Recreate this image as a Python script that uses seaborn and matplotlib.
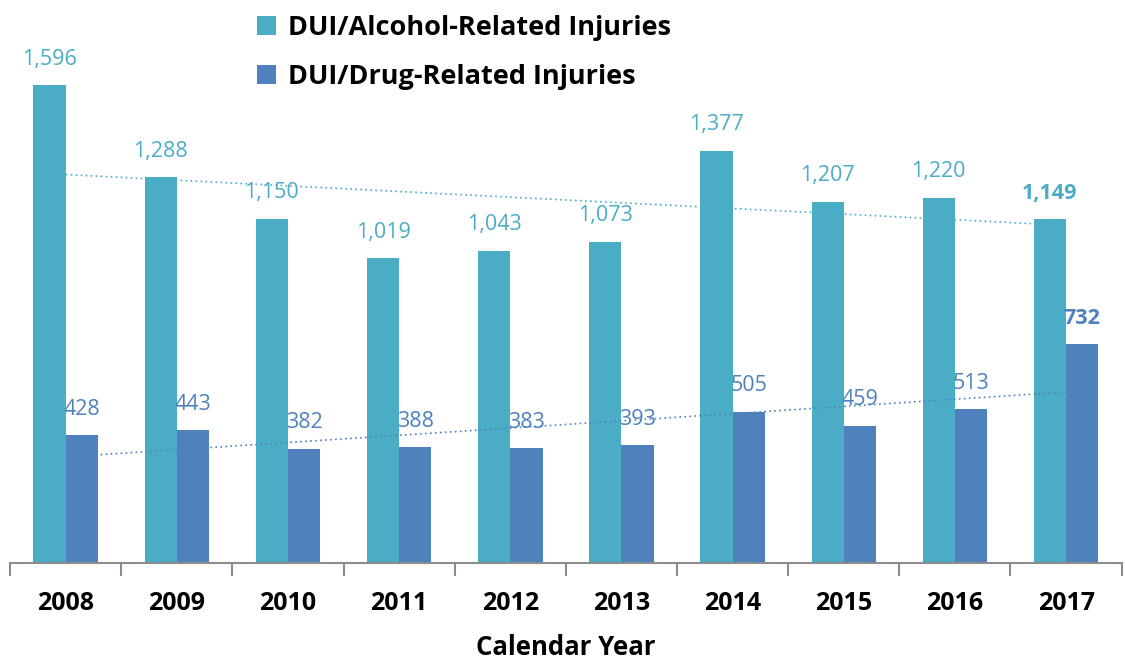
import numpy as np
import pandas as pd
import seaborn as sns
import matplotlib.pyplot as plt
from matplotlib.ticker import FixedLocator

years = ['2008', '2009', '2010', '2011', '2012', '2013', '2014', '2015', '2016', '2017']
alcohol = [1596, 1288, 1150, 1019, 1043, 1073, 1377, 1207, 1220, 1149]
drug = [428, 443, 382, 388, 383, 393, 505, 459, 513, 732]
series = ['DUI/Alcohol-Related Injuries', 'DUI/Drug-Related Injuries']
colors = ['#4BACC6', '#4F81BD']

df = pd.DataFrame({
    'year': years * 2,
    'injuries': alcohol + drug,
    'series': [series[0]] * len(years) + [series[1]] * len(years),
})

sns.set_style('white')
plt.rcParams['font.family'] = ['Open Sans', 'DejaVu Sans']
plt.rcParams['text.color'] = 'black'
plt.rcParams['xtick.color'] = 'black'
plt.rcParams['axes.labelcolor'] = 'black'

fig = plt.figure(figsize=(11.25, 6.59), dpi=100)
ax = fig.add_axes([0.009, 0.1457, 0.988, 0.8543])

sns.barplot(data=df, x='year', y='injuries', hue='series', palette=colors,
            width=0.58, saturation=1, linewidth=0, ax=ax, legend=True)

# value labels
for s_idx, (container, vals) in enumerate(zip(ax.containers, [alcohol, drug])):
    for i, (bar, v) in enumerate(zip(container, vals)):
        ax.annotate(f'{v:,}', (bar.get_x() + bar.get_width() / 2, bar.get_height()),
                    xytext=(0, 11), textcoords='offset points', ha='center', va='bottom',
                    fontsize=15.5, color=colors[s_idx],
                    fontweight='bold' if i == len(vals) - 1 else 'normal')

# linear trend lines
x = np.arange(len(years))
for vals, c in zip([alcohol, drug], colors):
    k, b = np.polyfit(x, vals, 1)
    ax.plot(x, k * x + b, linestyle=(0, (1, 2)), color=c, linewidth=1.2)

ax.set_xlim(-0.5, len(years) - 0.5)
ax.set_ylim(0, 1880)
ax.set_yticks([])
for sp in ['top', 'right', 'left']:
    ax.spines[sp].set_visible(False)
ax.spines['bottom'].set_color('#8C8C8C')
ax.spines['bottom'].set_linewidth(1.5)

ax.xaxis.set_major_locator(FixedLocator(x))
ax.set_xticklabels(years, fontsize=18, fontweight='bold', color='black')
ax.tick_params(axis='x', length=0, pad=20)
ax.xaxis.set_minor_locator(FixedLocator(np.arange(-0.5, len(years), 1)))
ax.tick_params(axis='x', which='minor', length=9, width=1.5, color='#8C8C8C', direction='out')
ax.xaxis.set_tick_params(which='minor', bottom=True)

ax.set_xlabel('Calendar Year', fontsize=18.5, fontweight='bold', labelpad=13, color='black')
ax.set_ylabel('')

handles, labels = ax.get_legend_handles_labels()
leg = ax.legend(handles, labels, loc='upper left', bbox_to_anchor=(0.207, 1.014),
                bbox_transform=fig.transFigure, frameon=False,
                handlelength=0.7, handleheight=0.7, handletextpad=0.45,
                labelspacing=0.85, prop={'weight': 'bold', 'size': 19.5})
for t in leg.get_texts():
    t.set_color('black')

fig.savefig('out.png', dpi=100)
